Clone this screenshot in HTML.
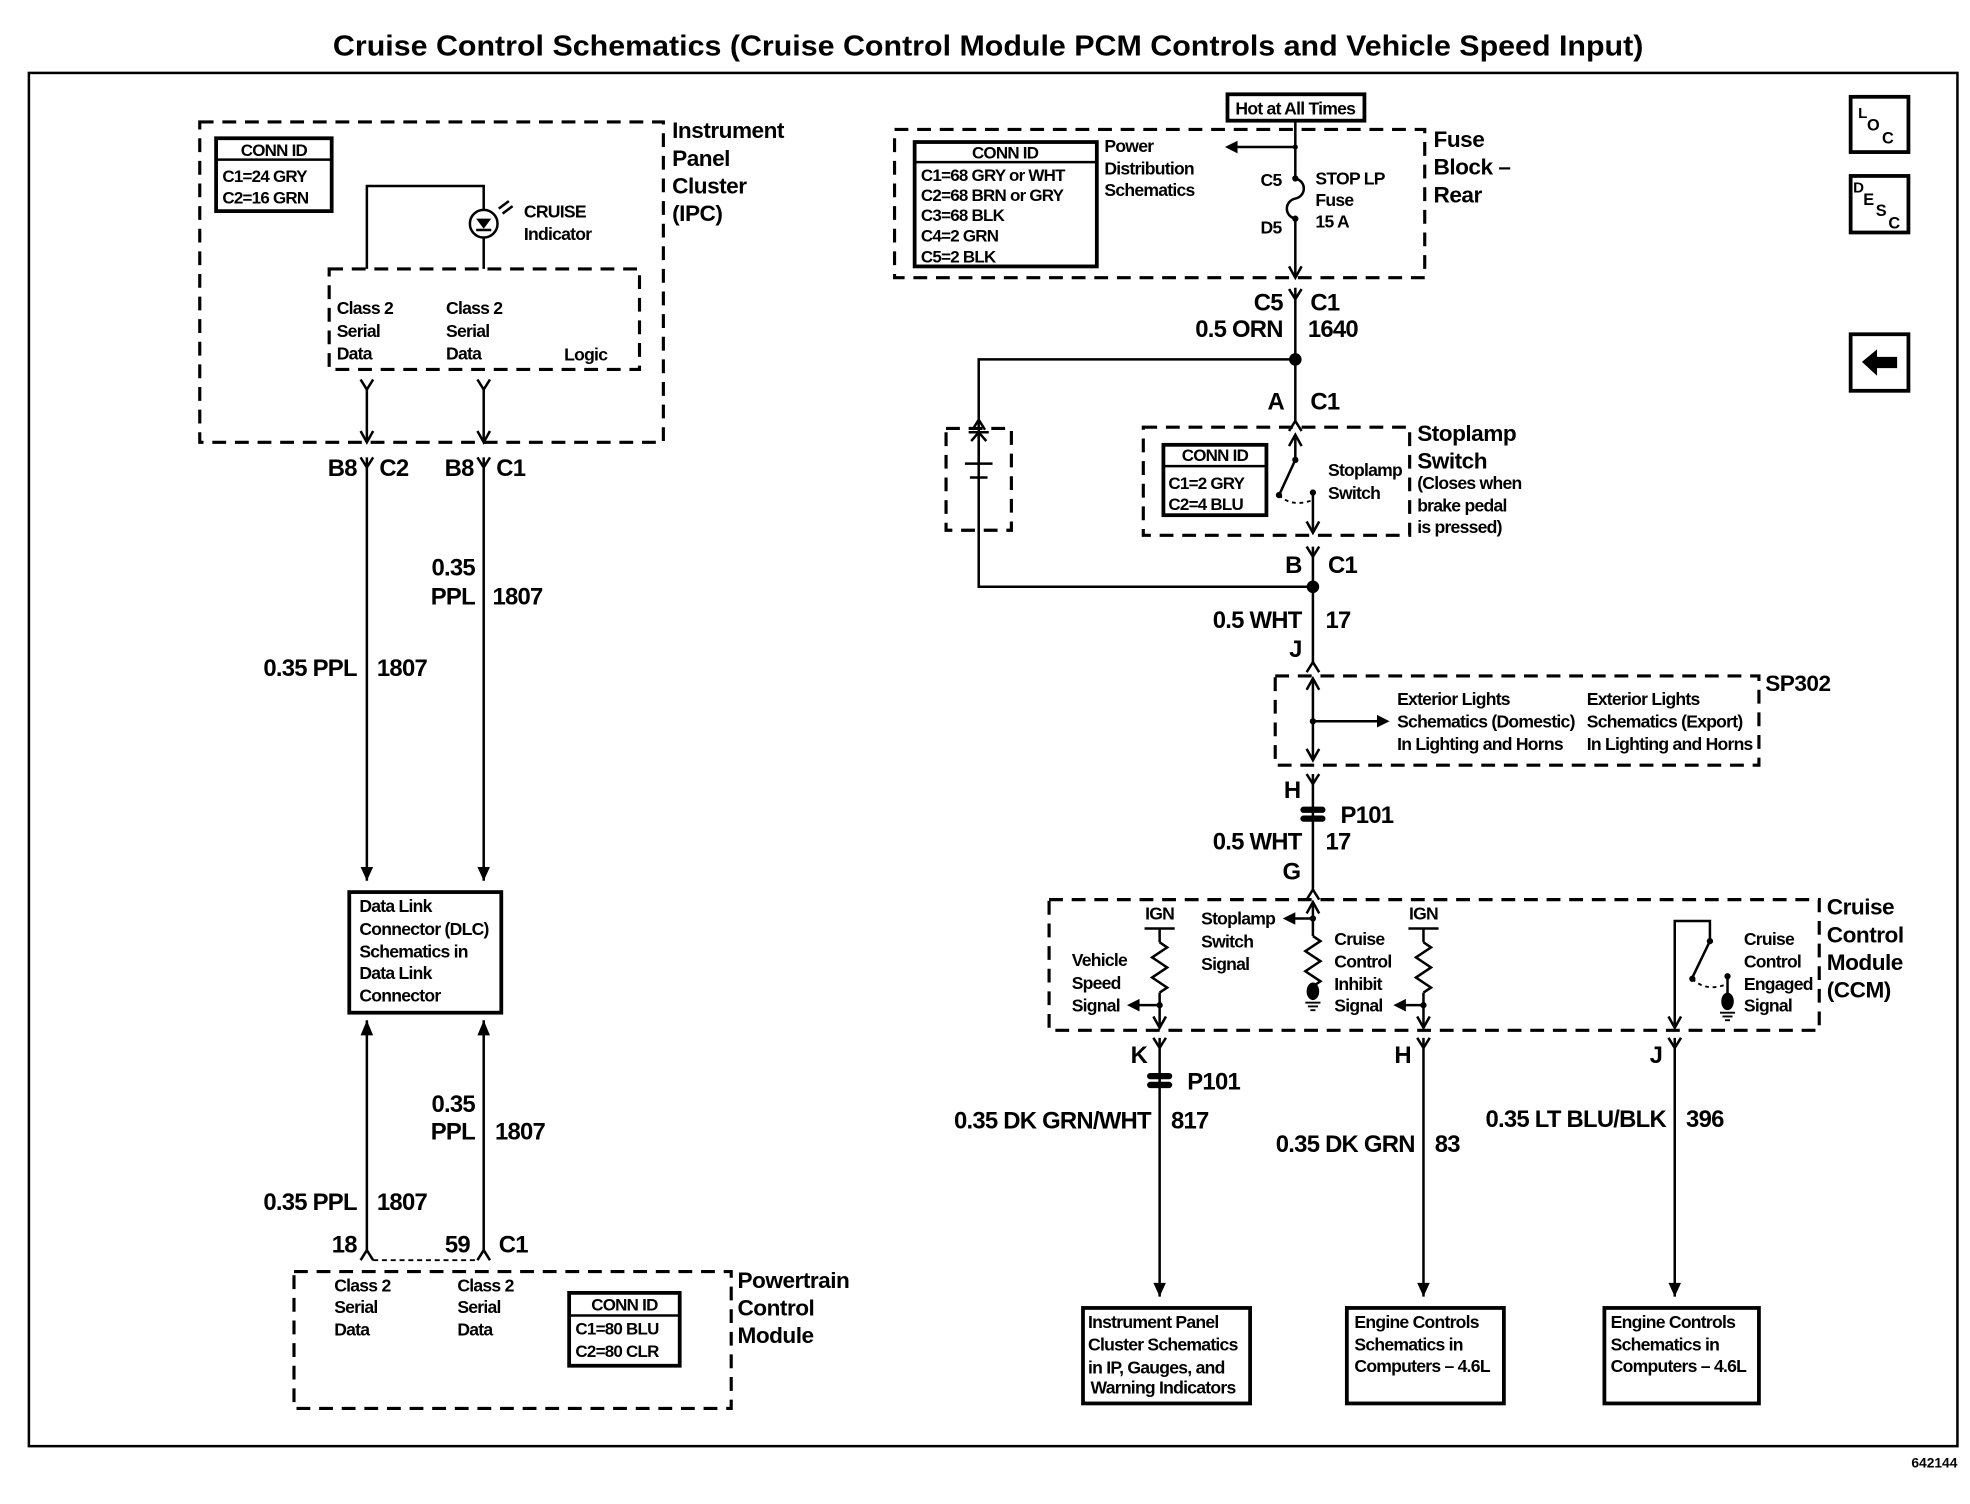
<!DOCTYPE html>
<html><head><meta charset="utf-8"><style>
html,body{margin:0;padding:0;background:#fff;}
svg{display:block;}
text{font-family:"Liberation Sans",Arial,sans-serif;fill:#000;font-weight:bold;}
.s{font-size:14px;letter-spacing:-0.6px;}
.m{font-size:18px;font-weight:bold;letter-spacing:-0.4px;}
.w{font-size:19px;letter-spacing:-0.6px;font-weight:bold;}
.n{font-size:13.5px;letter-spacing:-0.6px;}
.d{fill:none;stroke:#000;stroke-width:2.5;stroke-dasharray:11,7;}
.l{fill:none;stroke:#000;stroke-width:2;}
.b{fill:none;stroke:#000;stroke-width:3;}
</style></head><body>
<svg width="1970" height="1504" viewBox="0 0 1568 1197" xmlns="http://www.w3.org/2000/svg">
<defs>
<path id="fy" d="M-5,-8 L0,0 L5,-8" fill="none" stroke="#000" stroke-width="2"/>
<path id="fa" d="M-5,8 L0,0 L5,8" fill="none" stroke="#000" stroke-width="2"/>
<path id="ad" d="M-5,-9 L0,0 L5,-9" fill="none" stroke="#000" stroke-width="2"/>
<path id="au" d="M-5,9 L0,0 L5,9" fill="none" stroke="#000" stroke-width="2"/>
<polygon id="al" points="0,0 10,-5 10,5" fill="#000"/>
<polygon id="ar" points="0,0 -10,-5 -10,5" fill="#000"/>
<path id="res" d="M0,0 l6,4 l-12,8 l12,8 l-12,8 l12,8 l-6,4" fill="none" stroke="#000" stroke-width="2"/>
<g id="p101"><rect x="-10" y="-6" width="20" height="5" rx="2.5" fill="#000"/><rect x="-10" y="1" width="20" height="5" rx="2.5" fill="#000"/></g>
<g id="gnd"><ellipse cx="0" cy="-6" rx="5" ry="7" fill="#000"/><line x1="-6" y1="3" x2="6" y2="3" stroke="#000" stroke-width="1.5"/><line x1="-4" y1="6" x2="4" y2="6" stroke="#000" stroke-width="1.5"/><line x1="-2" y1="9" x2="2" y2="9" stroke="#000" stroke-width="1.5"/></g>
</defs>

<text x="265" y="44" textLength="1043" lengthAdjust="spacingAndGlyphs" style="font-size:23px">Cruise Control Schematics (Cruise Control Module PCM Controls and Vehicle Speed Input)</text>
<rect x="23" y="58" width="1535" height="1093" class="l" stroke-width="2.5"/>
<text x="1558" y="1168" text-anchor="end" style="font-size:11px">642144</text>

<!-- IPC -->
<rect x="159" y="97" width="369" height="255" class="d"/>
<text class="m" x="535" y="110">Instrument</text><text class="m" x="535" y="132">Panel</text><text class="m" x="535" y="154">Cluster</text><text class="m" x="535" y="176">(IPC)</text>
<rect x="172" y="110" width="92" height="58" class="b"/><line x1="172" y1="127" x2="264" y2="127" class="l"/>
<text class="n" x="218" y="124" text-anchor="middle" font-weight="normal">CONN ID</text>
<text class="n" x="177" y="145">C1=24 GRY</text><text class="n" x="177" y="162">C2=16 GRN</text>
<rect x="262" y="214" width="247" height="80" class="d"/>
<path d="M292,214 V148 H385 V167 M385,189 V214" class="l"/>
<circle cx="385" cy="178" r="11" class="l"/>
<path d="M379,174 L391,174 L385,182 Z" fill="#000"/><line x1="379" y1="183" x2="391" y2="183" class="l"/>
<path d="M397,166 l8,-6 M400,170 l8,-6" class="l" stroke-width="1.5"/>
<text class="s" x="417" y="173">CRUISE</text><text class="s" x="417" y="191">Indicator</text>
<text class="s" x="268" y="250">Class 2</text><text class="s" x="268" y="268">Serial</text><text class="s" x="268" y="286">Data</text>
<text class="s" x="355" y="250">Class 2</text><text class="s" x="355" y="268">Serial</text><text class="s" x="355" y="286">Data</text>
<text class="s" x="449" y="287">Logic</text>
<use href="#fy" x="292" y="310"/><use href="#fy" x="385" y="310"/>
<line x1="292" y1="310" x2="292" y2="352" class="l"/><line x1="385" y1="310" x2="385" y2="352" class="l"/>
<use href="#ad" x="292" y="352"/><use href="#ad" x="385" y="352"/>
<use href="#fy" x="292" y="372"/><use href="#fy" x="385" y="372"/>
<text class="w" x="284" y="379" text-anchor="end">B8</text><text class="w" x="302" y="379">C2</text>
<text class="w" x="377" y="379" text-anchor="end">B8</text><text class="w" x="395" y="379">C1</text>
<line x1="292" y1="364" x2="292" y2="701" class="l"/><line x1="385" y1="364" x2="385" y2="701" class="l"/>
<path d="M287,690 L292,701 L297,690 Z" fill="#000"/><path d="M380,690 L385,701 L390,690 Z" fill="#000"/>
<text class="w" x="284" y="538" text-anchor="end">0.35 PPL</text><text class="w" x="300" y="538">1807</text>
<text class="w" x="378" y="458" text-anchor="end">0.35</text><text class="w" x="378" y="481" text-anchor="end">PPL</text><text class="w" x="392" y="481">1807</text>
<rect x="278" y="710" width="121" height="96" class="b"/>
<text class="s" x="286" y="726">Data Link</text><text class="s" x="286" y="744">Connector (DLC)</text><text class="s" x="286" y="762">Schematics in</text><text class="s" x="286" y="779">Data Link</text><text class="s" x="286" y="797">Connector</text>
<line x1="292" y1="812" x2="292" y2="995" class="l"/><line x1="385" y1="812" x2="385" y2="995" class="l"/>
<path d="M287,824 L292,812 L297,824 Z" fill="#000"/><path d="M380,824 L385,812 L390,824 Z" fill="#000"/>
<text class="w" x="378" y="885" text-anchor="end">0.35</text><text class="w" x="378" y="907" text-anchor="end">PPL</text><text class="w" x="394" y="907">1807</text>
<text class="w" x="284" y="963" text-anchor="end">0.35 PPL</text><text class="w" x="300" y="963">1807</text>
<text class="w" x="284" y="997" text-anchor="end">18</text><text class="w" x="374" y="997" text-anchor="end">59</text><text class="w" x="397" y="997">C1</text>
<use href="#fa" x="292" y="995"/><use href="#fa" x="385" y="995"/>
<line x1="297" y1="1003" x2="380" y2="1003" stroke="#000" stroke-width="1.5" stroke-dasharray="4,3"/>
<rect x="234" y="1012" width="348" height="109" class="d"/>
<text class="s" x="266" y="1028">Class 2</text><text class="s" x="266" y="1045">Serial</text><text class="s" x="266" y="1063">Data</text>
<text class="s" x="364" y="1028">Class 2</text><text class="s" x="364" y="1045">Serial</text><text class="s" x="364" y="1063">Data</text>
<rect x="453" y="1029" width="88" height="58" class="b"/><line x1="453" y1="1047" x2="541" y2="1047" class="l"/>
<text class="n" x="497" y="1043" text-anchor="middle" font-weight="normal">CONN ID</text>
<text class="n" x="458" y="1062">C1=80 BLU</text><text class="n" x="458" y="1080">C2=80 CLR</text>
<text class="m" x="587" y="1025">Powertrain</text><text class="m" x="587" y="1047">Control</text><text class="m" x="587" y="1069">Module</text>

<!-- Fuse block -->
<rect x="977" y="75" width="109" height="21" class="b" stroke-width="2.5"/>
<text class="s" x="1031" y="91" text-anchor="middle">Hot at All Times</text>
<rect x="712" y="103" width="422" height="118" class="d"/>
<rect x="728" y="113" width="145" height="99" class="b"/><line x1="728" y1="129" x2="873" y2="129" class="l"/>
<text class="n" x="800" y="126" text-anchor="middle" font-weight="normal">CONN ID</text>
<text class="n" x="733" y="144">C1=68 GRY or WHT</text><text class="n" x="733" y="160">C2=68 BRN or GRY</text><text class="n" x="733" y="176">C3=68 BLK</text><text class="n" x="733" y="192">C4=2 GRN</text><text class="n" x="733" y="209">C5=2 BLK</text>
<text class="s" x="879" y="121">Power</text><text class="s" x="879" y="139">Distribution</text><text class="s" x="879" y="156">Schematics</text>
<line x1="985" y1="117" x2="1031" y2="117" class="l"/><use href="#al" x="975" y="117"/>
<path d="M1031,96 V142 C1040,144 1040,156 1031,158 C1022,160 1022,172 1031,174 V221" class="l"/>
<circle cx="1031" cy="142" r="2.5"/><circle cx="1031" cy="174" r="2.5"/><circle cx="1031" cy="117" r="2"/>
<text class="s" x="1020" y="148" text-anchor="end">C5</text><text class="s" x="1020" y="186" text-anchor="end">D5</text>
<text class="s" x="1047" y="147">STOP LP</text><text class="s" x="1047" y="164">Fuse</text><text class="s" x="1047" y="181">15 A</text>
<text class="m" x="1141" y="117">Fuse</text><text class="m" x="1141" y="139">Block –</text><text class="m" x="1141" y="161">Rear</text>
<use href="#ad" x="1031" y="221"/><use href="#fy" x="1031" y="238"/>
<line x1="1031" y1="229" x2="1031" y2="335" class="l"/>
<text class="w" x="1021" y="247" text-anchor="end">C5</text><text class="w" x="1043" y="247">C1</text>
<text class="w" x="1021" y="268" text-anchor="end">0.5 ORN</text><text class="w" x="1041" y="268">1640</text>
<circle cx="1031" cy="286" r="5"/>
<path d="M1031,286 H779 V422 M779,410 V467 H1045" class="l"/>
<rect x="753" y="341" width="52" height="81" class="d"/>
<use href="#fa" x="779" y="334"/>
<path d="M773,351 L779,344 L785,351 M771,344 H787" class="l"/>
<line x1="768" y1="369" x2="790" y2="369" class="l"/><line x1="772" y1="380" x2="786" y2="380" class="l"/>
<line x1="779" y1="369" x2="779" y2="344" class="l"/>
<text class="w" x="1022" y="326" text-anchor="end">A</text><text class="w" x="1043" y="326">C1</text>
<use href="#fa" x="1031" y="335"/>
<rect x="910" y="340" width="212" height="86" class="d"/>
<rect x="926" y="354" width="82" height="56" class="b"/><line x1="926" y1="371" x2="1008" y2="371" class="l"/>
<text class="n" x="967" y="367" text-anchor="middle" font-weight="normal">CONN ID</text>
<text class="n" x="930" y="389">C1=2 GRY</text><text class="n" x="930" y="406">C2=4 BLU</text>
<path d="M1031,346 V366 L1019,392" class="l"/><use href="#au" x="1031" y="346"/>
<circle cx="1031" cy="366" r="2.5"/><circle cx="1018" cy="394" r="2.5"/><circle cx="1045" cy="392" r="2.5"/>
<path d="M1018,394 Q1028,404 1045,398" fill="none" stroke="#000" stroke-width="1.5" stroke-dasharray="3,3"/>
<path d="M1045,392 V424" class="l"/><use href="#ad" x="1045" y="424"/>
<text class="s" x="1057" y="379">Stoplamp</text><text class="s" x="1057" y="397">Switch</text>
<text class="m" x="1128" y="351">Stoplamp</text><text class="m" x="1128" y="373">Switch</text>
<text class="s" x="1128" y="389">(Closes when</text><text class="s" x="1128" y="407">brake pedal</text><text class="s" x="1128" y="424">is pressed)</text>
<use href="#fy" x="1045" y="443"/>
<line x1="1045" y1="435" x2="1045" y2="527" class="l"/>
<text class="w" x="1036" y="456" text-anchor="end">B</text><text class="w" x="1057" y="456">C1</text>
<circle cx="1045" cy="467" r="5"/>
<text class="w" x="1036" y="500" text-anchor="end">0.5 WHT</text><text class="w" x="1055" y="500">17</text>
<text class="w" x="1036" y="523" text-anchor="end">J</text>
<use href="#fa" x="1045" y="527"/>
<rect x="1015" y="538" width="385" height="71" class="d"/>
<text class="m" x="1405" y="550">SP302</text>
<line x1="1045" y1="540" x2="1045" y2="605" class="l"/><use href="#au" x="1045" y="540"/><use href="#ad" x="1045" y="605"/>
<circle cx="1045" cy="574" r="2.5"/><line x1="1045" y1="574" x2="1096" y2="574" class="l"/><use href="#ar" x="1106" y="574"/>
<text class="s" x="1112" y="561">Exterior Lights</text><text class="s" x="1112" y="579">Schematics (Domestic)</text><text class="s" x="1112" y="597">In Lighting and Horns</text>
<text class="s" x="1263" y="561">Exterior Lights</text><text class="s" x="1263" y="579">Schematics (Export)</text><text class="s" x="1263" y="597">In Lighting and Horns</text>
<use href="#fy" x="1045" y="624"/>
<line x1="1045" y1="616" x2="1045" y2="708" class="l"/>
<text class="w" x="1035" y="635" text-anchor="end">H</text>
<use href="#p101" x="1045" y="648"/><text class="w" x="1067" y="655">P101</text>
<text class="w" x="1036" y="676" text-anchor="end">0.5 WHT</text><text class="w" x="1055" y="676">17</text>
<text class="w" x="1035" y="700" text-anchor="end">G</text>
<use href="#fa" x="1045" y="708"/>

<!-- CCM -->
<rect x="835" y="716" width="613" height="104" class="d"/>
<text class="m" x="1454" y="728">Cruise</text><text class="m" x="1454" y="750">Control</text><text class="m" x="1454" y="772">Module</text><text class="m" x="1454" y="794">(CCM)</text>
<text class="s" x="923" y="732" text-anchor="middle">IGN</text>
<line x1="911" y1="739" x2="935" y2="739" class="l"/><line x1="923" y1="739" x2="923" y2="750" class="l"/>
<use href="#res" x="923" y="750"/><line x1="923" y1="790" x2="923" y2="816" class="l"/><use href="#ad" x="923" y="818"/>
<circle cx="923" cy="800" r="2.5"/><line x1="905" y1="800" x2="923" y2="800" class="l"/><use href="#al" x="897" y="800"/>
<text class="s" x="853" y="769">Vehicle</text><text class="s" x="853" y="787">Speed</text><text class="s" x="853" y="805">Signal</text>
<text class="s" x="956" y="736">Stoplamp</text><text class="s" x="956" y="754">Switch</text><text class="s" x="956" y="772">Signal</text>
<line x1="1045" y1="718" x2="1045" y2="745" class="l"/><use href="#au" x="1045" y="718"/>
<circle cx="1045" cy="731" r="2.5"/><line x1="1030" y1="731" x2="1045" y2="731" class="l"/><use href="#al" x="1021" y="731"/>
<use href="#res" x="1045" y="745"/><line x1="1045" y1="785" x2="1045" y2="789" class="l"/>
<use href="#gnd" x="1045" y="795"/>
<text class="s" x="1062" y="752">Cruise</text><text class="s" x="1062" y="770">Control</text><text class="s" x="1062" y="788">Inhibit</text><text class="s" x="1062" y="805">Signal</text>
<text class="s" x="1133" y="732" text-anchor="middle">IGN</text>
<line x1="1121" y1="739" x2="1145" y2="739" class="l"/><line x1="1133" y1="739" x2="1133" y2="750" class="l"/>
<use href="#res" x="1133" y="750"/><line x1="1133" y1="790" x2="1133" y2="816" class="l"/><use href="#ad" x="1133" y="818"/>
<circle cx="1133" cy="800" r="2.5"/><line x1="1117" y1="800" x2="1133" y2="800" class="l"/><use href="#al" x="1109" y="800"/>
<path d="M1333,816 V733 H1361 V749 L1347,778" class="l"/><use href="#ad" x="1333" y="818"/>
<circle cx="1361" cy="749" r="2.5"/><circle cx="1347" cy="779" r="2.5"/><circle cx="1375" cy="777" r="2.5"/>
<path d="M1347,779 Q1358,790 1375,783" fill="none" stroke="#000" stroke-width="1.5" stroke-dasharray="3,3"/>
<line x1="1375" y1="777" x2="1375" y2="796" class="l"/><use href="#gnd" x="1375" y="803"/>
<text class="s" x="1388" y="752">Cruise</text><text class="s" x="1388" y="770">Control</text><text class="s" x="1388" y="788">Engaged</text><text class="s" x="1388" y="805">Signal</text>

<use href="#fy" x="923" y="834"/><use href="#fy" x="1133" y="834"/><use href="#fy" x="1333" y="834"/>
<line x1="923" y1="826" x2="923" y2="1032" class="l"/><line x1="1133" y1="826" x2="1133" y2="1032" class="l"/><line x1="1333" y1="826" x2="1333" y2="1032" class="l"/>
<path d="M918,1021 L923,1032 L928,1021 Z"/><path d="M1128,1021 L1133,1032 L1138,1021 Z"/><path d="M1328,1021 L1333,1032 L1338,1021 Z"/>
<text class="w" x="913" y="846" text-anchor="end">K</text><text class="w" x="1123" y="846" text-anchor="end">H</text><text class="w" x="1323" y="846" text-anchor="end">J</text>
<use href="#p101" x="923" y="860"/><text class="w" x="945" y="867">P101</text>
<text class="w" x="916" y="898" text-anchor="end">0.35 DK GRN/WHT</text><text class="w" x="932" y="898">817</text>
<text class="w" x="1126" y="917" text-anchor="end">0.35 DK GRN</text><text class="w" x="1142" y="917">83</text>
<text class="w" x="1326" y="897" text-anchor="end">0.35 LT BLU/BLK</text><text class="w" x="1342" y="897">396</text>
<rect x="862" y="1041" width="133" height="76" class="b"/>
<text class="s" x="866" y="1057">Instrument Panel</text><text class="s" x="866" y="1075">Cluster Schematics</text><text class="s" x="866" y="1093">in IP, Gauges, and</text><text class="s" x="868" y="1109">Warning Indicators</text>
<rect x="1072" y="1041" width="125" height="76" class="b"/>
<text class="s" x="1078" y="1057">Engine Controls</text><text class="s" x="1078" y="1075">Schematics in</text><text class="s" x="1078" y="1092">Computers – 4.6L</text>
<rect x="1277" y="1041" width="123" height="76" class="b"/>
<text class="s" x="1282" y="1057">Engine Controls</text><text class="s" x="1282" y="1075">Schematics in</text><text class="s" x="1282" y="1092">Computers – 4.6L</text>

<rect x="1473" y="77" width="46" height="44" class="b"/>
<text x="1479" y="94" style="font-size:12px">L</text><text x="1486" y="104" style="font-size:13px">O</text><text x="1498" y="114" style="font-size:13px">C</text>
<rect x="1473" y="140" width="46" height="45" class="b"/>
<text x="1475" y="153" style="font-size:12px">D</text><text x="1483" y="163" style="font-size:13px">E</text><text x="1493" y="172" style="font-size:13px">S</text><text x="1503" y="182" style="font-size:13px">C</text>
<rect x="1473" y="266" width="46" height="45" class="b"/>
<path d="M1482,288 L1494,278 L1494,284 L1510,284 L1510,293 L1494,293 L1494,299 Z" fill="#000"/>
</svg>
</body></html>
